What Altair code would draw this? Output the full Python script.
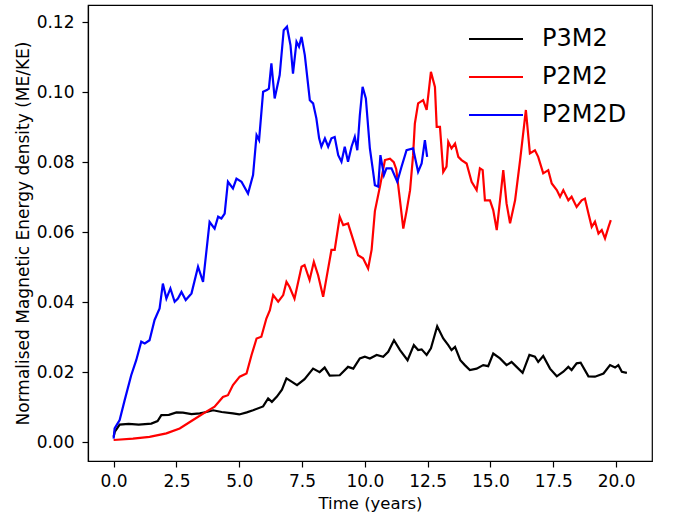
import altair as alt
import pandas as pd

series_names = ["P3M2", "P2M2", "P2M2D"]
series_colors = ["#000000", "#ff0000", "#0000ff"]

# (time in years, ME/KE)
p3m2 = [
    [0, 0.0015], [0.05, 0.003], [0.24, 0.0050], [0.6, 0.0052], [1.0, 0.0050], [1.5, 0.0053],
    [1.75, 0.0060], [1.9, 0.0077], [2.2, 0.0078], [2.5, 0.0085], [2.76, 0.0084], [3.1, 0.0080],
    [3.43, 0.0082], [3.7, 0.0086], [3.96, 0.0091], [4.3, 0.0086], [4.75, 0.0082], [5.0, 0.0079],
    [5.3, 0.0085], [5.55, 0.0091], [5.95, 0.0102], [6.15, 0.0125], [6.3, 0.0115], [6.5, 0.0130],
    [6.7, 0.0150], [6.88, 0.0182], [7.1, 0.0172], [7.3, 0.0163], [7.6, 0.0180], [7.94, 0.0210],
    [8.2, 0.0200], [8.4, 0.0213], [8.6, 0.0190], [9.0, 0.0191], [9.33, 0.0215], [9.54, 0.0210],
    [9.8, 0.0239], [10.0, 0.0244], [10.2, 0.0239], [10.47, 0.0249], [10.73, 0.0244], [10.93, 0.0258],
    [11.16, 0.0291], [11.4, 0.0263], [11.7, 0.0234], [11.95, 0.0277], [12.12, 0.0263], [12.26, 0.0265],
    [12.46, 0.0249], [12.63, 0.0268], [12.88, 0.0331], [13.12, 0.0296], [13.32, 0.0277], [13.45, 0.0263],
    [13.59, 0.0272], [13.8, 0.0234], [13.98, 0.0220], [14.18, 0.0206], [14.45, 0.0210], [14.71, 0.0220],
    [14.91, 0.0217], [15.11, 0.0253], [15.38, 0.0239], [15.64, 0.0220], [15.84, 0.0229], [16.04, 0.0215],
    [16.28, 0.0198], [16.55, 0.0249], [16.77, 0.0244], [16.9, 0.0229], [17.1, 0.0246], [17.37, 0.0210],
    [17.64, 0.0188], [17.9, 0.0201], [18.1, 0.0215], [18.23, 0.0206], [18.43, 0.0225], [18.59, 0.0227],
    [18.9, 0.0188], [19.16, 0.0187], [19.5, 0.0196], [19.76, 0.0220], [19.96, 0.0213], [20.09, 0.0220],
    [20.23, 0.0201], [20.43, 0.0198],
]

p2m2 = [
    [0, 0.0006], [0.77, 0.0010], [1.43, 0.0015], [2.1, 0.0025], [2.63, 0.0039], [3.16, 0.0063],
    [3.69, 0.0087], [4.02, 0.0101], [4.35, 0.0129], [4.55, 0.0134], [4.75, 0.0163], [5.02, 0.0187],
    [5.29, 0.0196], [5.49, 0.0249], [5.69, 0.0296], [5.88, 0.0301], [6.08, 0.0353], [6.22, 0.0377],
    [6.35, 0.0420], [6.55, 0.0401], [6.75, 0.0420], [6.88, 0.0458], [7.0, 0.0444], [7.2, 0.0410],
    [7.48, 0.0501], [7.6, 0.0506], [7.8, 0.0463], [7.97, 0.0515], [8.14, 0.0477], [8.34, 0.0415],
    [8.47, 0.0468], [8.67, 0.0549], [8.8, 0.0549], [9.0, 0.0644], [9.14, 0.0620], [9.33, 0.0625],
    [9.54, 0.0577], [9.73, 0.0534], [9.93, 0.0525], [10.13, 0.0496], [10.27, 0.0550], [10.4, 0.0660],
    [10.6, 0.0730], [10.8, 0.0806], [11.0, 0.0810], [11.15, 0.0800], [11.25, 0.0780], [11.4, 0.0690],
    [11.53, 0.0610], [11.66, 0.0660], [11.8, 0.0720], [11.92, 0.0820], [11.99, 0.0910], [12.12, 0.0968],
    [12.32, 0.0977], [12.46, 0.0949], [12.63, 0.1058], [12.79, 0.1015], [12.86, 0.0901], [12.99, 0.0901],
    [13.12, 0.0772], [13.25, 0.0787], [13.32, 0.0858], [13.45, 0.0839], [13.59, 0.0853], [13.72, 0.0815],
    [13.85, 0.0806], [14.05, 0.0796], [14.25, 0.0744], [14.45, 0.0720], [14.58, 0.0782], [14.69, 0.0777],
    [14.78, 0.0691], [14.98, 0.0691], [15.11, 0.0663], [15.25, 0.0606], [15.38, 0.0691], [15.51, 0.0777],
    [15.64, 0.0682], [15.78, 0.0625], [15.98, 0.0691], [16.18, 0.0806], [16.41, 0.0949], [16.57, 0.0825],
    [16.77, 0.0834], [16.9, 0.0815], [17.1, 0.0768], [17.3, 0.0777], [17.44, 0.0739], [17.64, 0.0720],
    [17.77, 0.0701], [17.9, 0.0720], [18.1, 0.0691], [18.23, 0.0701], [18.43, 0.0672], [18.63, 0.0691],
    [18.76, 0.0696], [18.9, 0.0653], [19.03, 0.0615], [19.16, 0.0630], [19.3, 0.0596], [19.43, 0.0606],
    [19.56, 0.0582], [19.7, 0.0615], [19.79, 0.0634],
]

p2m2d = [
    [0, 0.0010], [0.04, 0.0039], [0.24, 0.0063], [0.44, 0.0120], [0.7, 0.0191], [0.9, 0.0234],
    [1.1, 0.0287], [1.24, 0.0282], [1.43, 0.0291], [1.63, 0.0349], [1.83, 0.0382], [1.96, 0.0453],
    [2.1, 0.0410], [2.26, 0.0439], [2.43, 0.0401], [2.56, 0.0410], [2.7, 0.0429], [2.87, 0.0406],
    [3.1, 0.0425], [3.36, 0.0501], [3.56, 0.0458], [3.7, 0.0550], [3.82, 0.0629], [4.02, 0.0610],
    [4.16, 0.0644], [4.29, 0.0639], [4.42, 0.0653], [4.55, 0.0744], [4.75, 0.0725], [4.89, 0.0753],
    [5.09, 0.0744], [5.35, 0.0710], [5.55, 0.0763], [5.69, 0.0877], [5.79, 0.0863], [5.95, 0.1001],
    [6.1, 0.1006], [6.18, 0.1010], [6.28, 0.1082], [6.41, 0.0982], [6.61, 0.1049], [6.77, 0.1177],
    [6.9, 0.1187], [7.04, 0.1134], [7.14, 0.1053], [7.28, 0.1144], [7.38, 0.1130], [7.48, 0.1158],
    [7.61, 0.1106], [7.81, 0.0977], [7.94, 0.0968], [8.07, 0.0925], [8.18, 0.0868], [8.27, 0.0844],
    [8.41, 0.0868], [8.54, 0.0844], [8.67, 0.0868], [8.8, 0.0872], [8.94, 0.0820], [9.07, 0.0801],
    [9.2, 0.0844], [9.33, 0.0801], [9.47, 0.0844], [9.6, 0.0872], [9.7, 0.0834], [9.8, 0.0934],
    [9.91, 0.1015], [10.04, 0.0982], [10.2, 0.0839], [10.33, 0.0772], [10.4, 0.0734], [10.53, 0.0730],
    [10.62, 0.0820], [10.76, 0.0763], [10.86, 0.0782], [11.06, 0.0782], [11.29, 0.0744], [11.46, 0.0787],
    [11.66, 0.0834], [11.92, 0.0839], [12.12, 0.0772], [12.26, 0.0796], [12.39, 0.0863], [12.48, 0.0815],
]

x_ticks = [0, 2.5, 5, 7.5, 10, 12.5, 15, 17.5, 20]
y_ticks = [0, 0.02, 0.04, 0.06, 0.08, 0.10, 0.12]

rows = []
for name, pts in zip(series_names, [p3m2, p2m2, p2m2d]):
    for t, v in pts:
        rows.append({"series": name, "t": t, "v": v})
df = pd.DataFrame(rows)

FONT = "DejaVu Sans"

chart = alt.Chart(df).mark_line(strokeWidth=2.2).encode(
    x=alt.X(
        "t:Q",
        scale=alt.Scale(domain=[-1.02, 21.43], nice=False, zero=False),
        axis=alt.Axis(
            values=x_ticks, format=".1f", title="Time (years)", grid=False,
            labelFontSize=17, titleFontSize=16.5, labelPadding=6,
            titleX=282, titleY=47, titleBaseline="alphabetic",
        ),
    ),
    y=alt.Y(
        "v:Q",
        scale=alt.Scale(domain=[-0.0054, 0.1249], nice=False, zero=False),
        axis=alt.Axis(
            values=y_ticks, format=".2f", grid=False,
            title="Normalised Magnetic Energy density (ME/KE)",
            labelFontSize=17, titleFontSize=17, labelPadding=8,
            titleX=-59.5, titleY=228, titleBaseline="alphabetic",
        ),
    ),
    color=alt.Color(
        "series:N",
        scale=alt.Scale(domain=series_names, range=series_colors),
        sort=series_names,
        legend=alt.Legend(
            title=None, orient="none", legendX=396, legendY=22, padding=0,
            symbolType="M-3,0L3,0", symbolSize=324, symbolStrokeWidth=2.2,
            labelFontSize=24, labelFont=FONT, labelColor="black",
            labelOffset=34, rowPadding=14,
        ),
    ),
).properties(
    width=564, height=456,
    autosize=alt.AutoSizeParams(type="none"),
    padding={"left": 88, "top": 5, "right": 21, "bottom": 56},
).configure(
    background="white", font=FONT,
).configure_view(
    stroke="black", strokeWidth=1.2,
).configure_axis(
    domainColor="black", domainWidth=1.2, tickColor="black", tickWidth=1.2, tickSize=6,
    labelColor="black", titleColor="black", titleFontWeight="normal",
    labelFont=FONT, titleFont=FONT,
)

chart.save("out.html", embed_options={"renderer": "svg", "actions": False})
